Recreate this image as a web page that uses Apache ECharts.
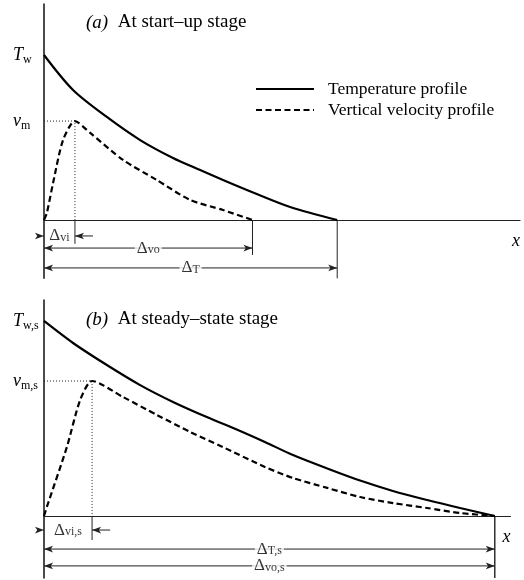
<!DOCTYPE html>
<html><head><meta charset="utf-8">
<script src="https://cdn.jsdelivr.net/npm/echarts@6/dist/echarts.min.js"></script>
<style>html,body{margin:0;padding:0;background:#fff}#c{width:524px;height:580px}</style>
</head><body><div id="c"></div>
<script>
// ---------- data (x: distance, y: fraction of axis height, arbitrary units) ----------
const seriesNames = ['Temperature profile', 'Vertical velocity profile'];

// Panel (a): start-up stage
const tempA_x = [0, 6.1, 13.2, 20.2, 27.1, 32.8, 37.6, 44.7, 51.7, 61.6];
const tempA_y = [76.4, 60.2, 47.7, 37.0, 28.7, 23.1, 18.5, 12.0, 6.0, 0];
const velA_x = [0, 0.6, 1.9, 4.0, 6.5, 9.7, 16.6, 23.7, 30.7, 37.6, 43.8];
const velA_y = [0, 3.2, 17.1, 37.0, 45.8, 40.3, 27.8, 18.5, 9.3, 4.6, 0];

// Panel (b): steady-state stage
const tempB_x = [0, 6.1, 13.2, 20.2, 27.1, 34.2, 41.2, 46.4, 52.3, 59.5, 66.4, 73.3, 80.5, 87.4, 94.7];
const tempB_y = [90.3, 80.1, 69.9, 60.6, 52.8, 45.8, 39.4, 34.3, 28.2, 22.0, 16.4, 11.6, 7.4, 3.7, 0];
const velB_x = [0, 0.6, 4.8, 7.6, 10.1, 16.6, 23.7, 30.7, 37.6, 46.4, 52.3, 59.5, 66.4, 73.3, 80.5, 87.4, 94.7];
const velB_y = [0, 4.2, 31.9, 53.7, 62.5, 55.1, 46.8, 38.9, 31.9, 22.7, 17.6, 13.0, 8.8, 6.0, 3.7, 1.4, 0];

// text labels
const titlesTag = ['(a)', '(b)'];
const titlesText = ['At start\u2013up stage', 'At steady\u2013state stage'];
const wallLabels = [['T', 'w'], ['T', 'w,s']];
const peakLabels = [['v', 'm'], ['v', 'm,s']];
const innerDimLabels = [['\u0394', 'vi'], ['\u0394', 'vi,s']];
const outerDimLabels = [['\u0394', 'vo'], ['\u0394', 'vo,s']];
const tempDimLabels = [['\u0394', 'T'], ['\u0394', 'T,s']];
const xAxisName = 'x';

// ---------- rendering ----------
const FONT = "'Liberation Serif', 'Times New Roman', serif";
const rich = {
  it: {fontFamily: FONT, fontStyle: 'italic', fontWeight: 'normal', fontSize: 18, lineHeight: 22, color: '#000'},
  rm: {fontFamily: FONT, fontWeight: 'normal', fontSize: 18, lineHeight: 22, color: '#000'},
  s: {fontFamily: FONT, fontWeight: 'normal', fontSize: 12, lineHeight: 12, verticalAlign: 'bottom', color: '#000'}
};
const dimRich = {
  rm: {fontFamily: FONT, fontSize: 17, lineHeight: 15, color: '#000'},
  s: {fontFamily: FONT, fontSize: 12, lineHeight: 10, verticalAlign: 'bottom', color: '#000'}
};
const titleRich = {
  it: {fontFamily: FONT, fontStyle: 'italic', fontWeight: 'normal', fontSize: 19, color: '#000'},
  rm: {fontFamily: FONT, fontWeight: 'normal', fontSize: 19, color: '#000'}
};
const zip = (xs, ys) => xs.map((x, i) => [x, ys[i]]);

const panels = [
  {tx: tempA_x, ty: tempA_y, vx: velA_x, vy: velA_y,
   grid: {left: 44, top: 4, width: 476, height: 274.3}, xMax: 100, yMin: -27, titleTop: 8,
   rowVi: -7.4, viTick: -11, rows: [{lab: outerDimLabels[0], y: -13.0, end: 'v', tick: -16.2}, {lab: tempDimLabels[0], y: -22.2, end: 't', tick: -27}]},
  {tx: tempB_x, ty: tempB_y, vx: velB_x, vy: velB_y,
   grid: {left: 44, top: 300, width: 466.5, height: 278}, xMax: 98, yMin: -28.7, titleTop: 305,
   rowVi: -6.5, viTick: -11.1, rows: [{lab: tempDimLabels[1], y: -15.3, end: 't', tick: -28.7}, {lab: outerDimLabels[1], y: -23.1, end: 'v', tick: -28.7}]}
];

const grids = [], xAxes = [], yAxes = [], series = [], titles = [];
const ARW = 3.8;
panels.forEach((p, k) => {
  const peakI = p.vy.indexOf(Math.max(...p.vy));
  const pkX = p.vx[peakI], pkY = p.vy[peakI];
  const vEnd = p.vx[p.vx.length - 1], tEnd = p.tx[p.tx.length - 1];
  const T0 = p.ty[0];
  grids.push(p.grid);
  xAxes.push({type: 'value', gridIndex: k, min: 0, max: p.xMax,
    axisLine: {show: true, onZero: true, lineStyle: {color: '#222', width: 1.2}},
    axisTick: {show: false}, axisLabel: {show: false}, splitLine: {show: false},
    name: xAxisName, nameLocation: 'end', nameGap: -8,
    nameTextStyle: {fontFamily: FONT, fontStyle: 'italic', fontSize: 18, color: '#000', verticalAlign: 'top', padding: [12, 0, 0, 0]}});
  yAxes.push({type: 'value', gridIndex: k, min: p.yMin, max: 100,
    axisLine: {show: true, lineStyle: {color: '#111', width: 1.5}},
    axisTick: {show: false}, splitLine: {show: false},
    axisLabel: {show: true, customValues: [T0, pkY], margin: 31, align: 'left', rich,
      formatter: v => Math.abs(v - T0) < 1e-6 ? `{it|${wallLabels[k][0]}}{s|${wallLabels[k][1]}}` : `{it|${peakLabels[k][0]}}{s|${peakLabels[k][1]}}`}});
  titles.push({left: 81, top: p.titleTop, text: `{it|${titlesTag[k]}}{rm|  ${titlesText[k]}}`,
    textStyle: {rich: titleRich, fontSize: 19, fontWeight: 'normal'}});

  series.push({name: seriesNames[0], type: 'line', xAxisIndex: k, yAxisIndex: k, data: zip(p.tx, p.ty),
    smooth: 0.3, symbol: 'none', itemStyle: {color: '#000'}, lineStyle: {color: '#000', width: 2.2}, z: 3});
  series.push({name: seriesNames[1], type: 'line', xAxisIndex: k, yAxisIndex: k, data: zip(p.vx, p.vy),
    smooth: 0.25, symbol: 'none', itemStyle: {color: '#000'}, lineStyle: {color: '#000', width: 2.2, type: [6, 3.5]}, z: 3});
  // dotted guides to the velocity maximum
  series.push({type: 'line', xAxisIndex: k, yAxisIndex: k, data: [[0, pkY], [pkX, pkY], [pkX, 0]],
    symbol: 'none', silent: true, lineStyle: {color: '#222', width: 1, type: [1, 2]}, z: 2});

  const seg = (a, b, arrA, arrB) => {
    const item = (pt, arr) => arr ? {value: pt, symbol: 'arrow', symbolSize: [5, 9], symbolRotate: arr === 'r' ? -90 : 90} : {value: pt, symbol: 'none'};
    series.push({type: 'line', xAxisIndex: k, yAxisIndex: k, data: [item(a, arrA), item(b, arrB)],
      showSymbol: true, clip: false, silent: true, symbol: 'none',
      itemStyle: {color: '#222'}, lineStyle: {color: '#222', width: 1}, z: 2});
  };
  // ticks (extension lines)
  seg([pkX, 0], [pkX, p.viTick]);
  p.rows.forEach(r => seg([r.end === 'v' ? vEnd : tEnd, 0], [r.end === 'v' ? vEnd : tEnd, r.tick]));
  // inner (vi) dimension arrows
  seg([-ARW, p.rowVi], [0, p.rowVi], null, 'r');
  seg([pkX + ARW, p.rowVi], [pkX, p.rowVi], null, 'l');
  // long dimension arrows
  const labels = [{value: [pkX / 2, p.rowVi], lab: innerDimLabels[k]}];
  p.rows.forEach(r => {
    const e = r.end === 'v' ? vEnd : tEnd;
    seg([0, r.y], [e, r.y], 'l', 'r');
    labels.push({value: [e / 2, r.y], lab: r.lab});
  });
  series.push({type: 'scatter', xAxisIndex: k, yAxisIndex: k, symbolSize: 1, silent: true, z: 5,
    itemStyle: {color: 'transparent'},
    data: labels.map(l => ({value: l.value, label: {formatter: `{rm|${l.lab[0]}}{s|${l.lab[1]}}`}})),
    label: {show: true, position: 'inside', rich: dimRich, color: '#000', backgroundColor: '#fff', padding: [0, 2]}});
});

const chart = echarts.init(document.getElementById('c'));
chart.setOption({
  animation: false,
  backgroundColor: '#fff',
  title: titles,
  legend: {data: seriesNames, orient: 'vertical', left: 255, top: 80, padding: 0, itemWidth: 58, itemHeight: 14, itemGap: 3,
    selectedMode: false, itemStyle: {opacity: 0},
    textStyle: {fontFamily: FONT, fontSize: 17.5, color: '#000', lineHeight: 17, padding: [0, 0, 0, 9]}},
  grid: grids, xAxis: xAxes, yAxis: yAxes, series
});
</script></body></html>
